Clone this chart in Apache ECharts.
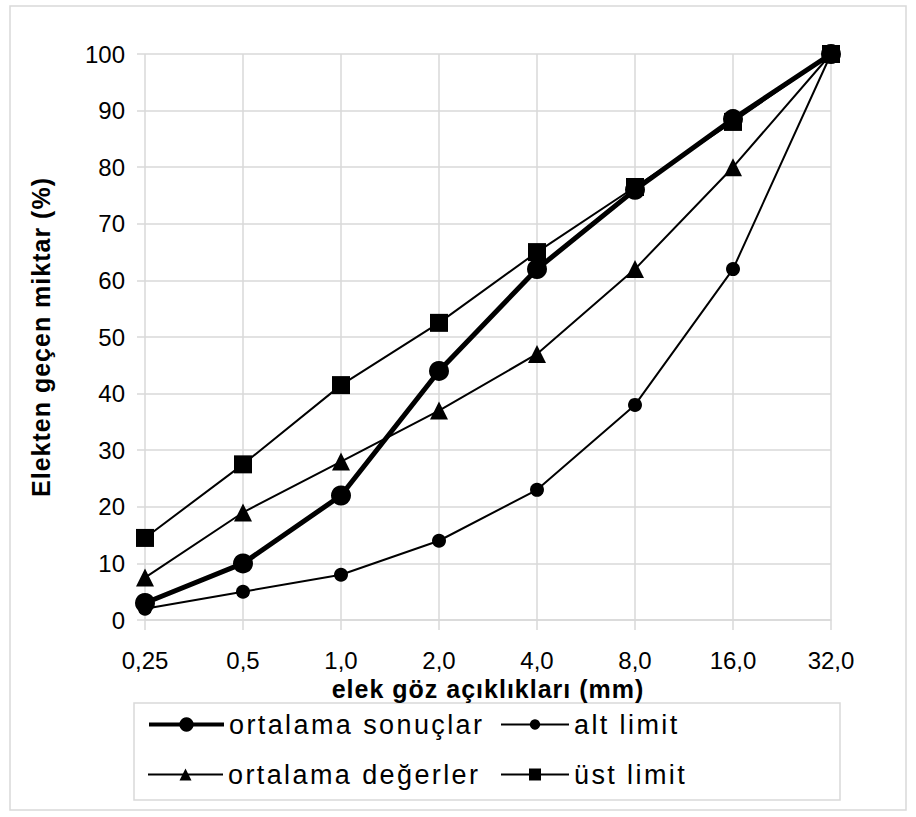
<!DOCTYPE html>
<html>
<head>
<meta charset="utf-8">
<script src="https://cdn.jsdelivr.net/npm/echarts@6/dist/echarts.min.js"></script>
<style>
html,body{margin:0;padding:0;background:#fff;}
#c{width:916px;height:817px;}
/* wider tracking as in the reference */
#c text[style*="27px"]{letter-spacing:2.4px;}
#c text[style*="25px"]{letter-spacing:1px;}
</style>
</head>
<body>
<div id="c"></div>
<script>
var categories = ['0,25', '0,5', '1,0', '2,0', '4,0', '8,0', '16,0', '32,0'];
var ortalamaSonuclar = [3, 10, 22, 44, 62, 76, 88.5, 100];
var altLimit = [2, 5, 8, 14, 23, 38, 62, 100];
var ortalamaDegerler = [7.5, 19, 28, 37, 47, 62, 80, 100];
var ustLimit = [14.5, 27.5, 41.5, 52.5, 65, 76.5, 88, 100];
var yTicks = [0, 10, 20, 30, 40, 50, 60, 70, 80, 90, 100];

var FONT = 'Liberation Sans';
var chart = echarts.init(document.getElementById('c'), null, {renderer: 'svg'});
var grid = '#d9d9d9';
function lineSeries(name, data, symbol, size, width) {
  return {
    name: name, type: 'line', data: data,
    symbol: symbol, symbolSize: size,
    lineStyle: {color: '#000', width: width},
    itemStyle: {color: '#000'},
    animation: false
  };
}
function leg(name, left, top, w, h, lw) {
  return {
    data: [name], left: left, top: top, itemWidth: w, itemHeight: h,
    lineStyle: {width: lw, color: '#000'},
    textStyle: {fontFamily: FONT, fontSize: 27, color: '#000'}
  };
}
chart.setOption({
  backgroundColor: '#fff',
  animation: false,
  textStyle: {fontFamily: FONT, color: '#000'},
  graphic: [
    {type: 'rect', shape: {x: 10, y: 6, width: 896, height: 804}, style: {fill: 'none', stroke: grid, lineWidth: 1.5}, z: -1},
    {type: 'rect', shape: {x: 134, y: 703, width: 706, height: 97}, style: {fill: 'none', stroke: grid, lineWidth: 1.5}, z: -1}
  ],
  grid: {left: 145, right: 85, top: 54, bottom: 197, containLabel: false},
  xAxis: {
    type: 'category', data: categories, boundaryGap: false,
    name: 'elek göz açıklıkları (mm)', nameLocation: 'middle', nameGap: 39,
    nameTextStyle: {fontFamily: FONT, fontSize: 25, fontWeight: 'bold', color: '#000'},
    axisLine: {show: true, lineStyle: {color: grid, width: 1.5}},
    axisTick: {show: true, length: 10, lineStyle: {color: grid, width: 1.5}},
    axisLabel: {fontFamily: FONT, fontSize: 24, color: '#000', margin: 28},
    splitLine: {show: true, lineStyle: {color: grid, width: 1.5}}
  },
  yAxis: {
    type: 'value', min: yTicks[0], max: yTicks[yTicks.length - 1], interval: 10,
    name: 'Elekten geçen miktar (%)', nameLocation: 'middle', nameGap: 92,
    nameTextStyle: {fontFamily: FONT, fontSize: 25, fontWeight: 'bold', color: '#000'},
    axisLine: {show: false},
    axisTick: {show: true, length: 8, lineStyle: {color: grid, width: 1.5}},
    axisLabel: {fontFamily: FONT, fontSize: 24, color: '#000', margin: 20},
    splitLine: {show: true, lineStyle: {color: grid, width: 1.5}}
  },
  legend: [
    leg('ortalama sonuçlar', 142, 706, 75, 18, 4),
    leg('ortalama değerler', 142, 756, 75, 15, 2),
    leg('alt limit', 495, 706, 68, 13, 2),
    leg('üst limit', 495, 756, 68, 15, 2)
  ],
  series: [
    lineSeries('ortalama sonuçlar', ortalamaSonuclar, 'circle', 20, 5),
    lineSeries('alt limit', altLimit, 'circle', 14, 2),
    lineSeries('ortalama değerler', ortalamaDegerler, 'triangle', 18, 2),
    lineSeries('üst limit', ustLimit, 'rect', 18, 2)
  ]
});
</script>
</body>
</html>
